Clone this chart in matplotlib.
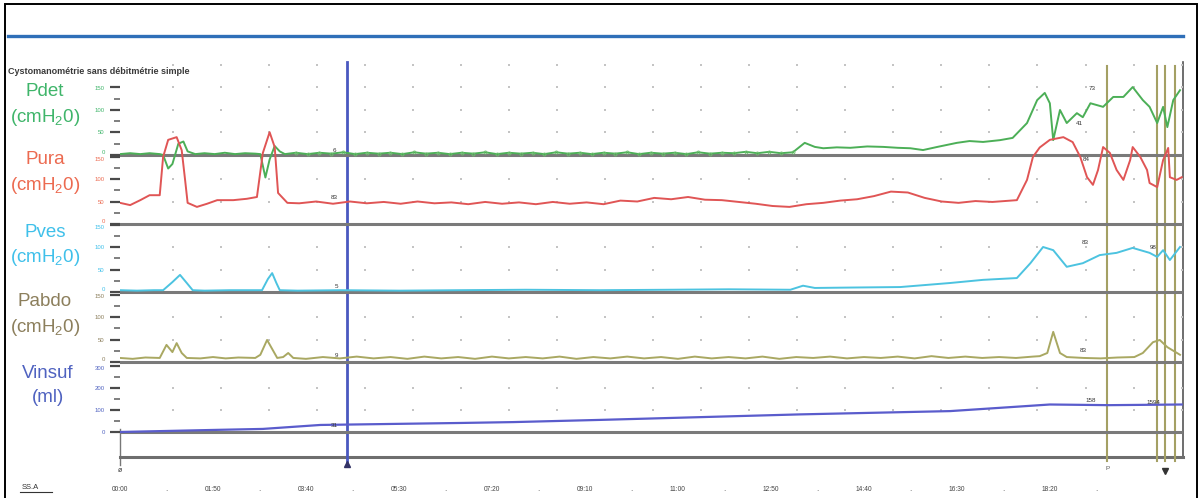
import numpy as np
import matplotlib
matplotlib.use("Agg")
import matplotlib.pyplot as plt
from matplotlib.lines import Line2D
from matplotlib.patches import Rectangle

plt.rcParams['font.family'] = ['Liberation Sans', 'DejaVu Sans']
plt.rcParams['mathtext.fontset'] = 'custom'
plt.rcParams['mathtext.rm'] = 'Liberation Sans'
plt.rcParams['mathtext.default'] = 'regular'

# ---------------- data (time in s, pressures in cmH2O, volume in ml) ----------------
t_pdet = [0, 12, 24, 35, 47, 51, 57, 62, 69, 75, 80, 89, 100, 112, 124, 136, 148, 160, 166, 172, 177, 183, 189, 195,
          208, 222, 236, 250, 264, 278, 292, 306, 320, 334, 348, 362, 376, 390, 404, 418, 432, 446, 460, 474, 488,
          502, 516, 530, 544, 558, 572, 586, 600, 614, 628, 642, 656, 670, 684, 698, 712, 726, 740, 754, 768, 782, 796,
          810, 822, 832, 848, 864, 884, 903, 920, 935, 950, 967, 990, 1005, 1021, 1041, 1056, 1073, 1085, 1094, 1100,
          1104, 1112, 1120, 1132, 1139, 1148, 1163, 1175, 1187, 1198, 1210, 1218, 1227, 1234, 1239, 1246, 1254]
pdet = [2, 4, 2, 4, 2, 0, -30, -20, 25, 30, 8, 2, 4, 2, 5, 2, 4, 3, 2, -50, -10, 20, 8, 2,
        5, 2, 5, 3, 6, 2, 5, 3, 5, 2, 6, 3, 5, 2, 5, 3, 6, 2, 5, 3, 5, 2, 6, 3, 5, 2, 5, 3, 6, 2,
        5, 3, 5, 2, 6, 3, 5, 4, 7, 4, 7, 4, 6,
        27, 18, 15, 17, 16, 19, 18, 16, 15, 11, 18, 27, 31, 29, 33, 38, 71, 122, 138, 115,
        33, 100, 71, 93, 84, 115, 107, 129, 129, 151, 122, 107, 71, 107, 62, 122, 144]

t_pura = [0, 12, 24, 35, 47, 51, 57, 67, 73, 77, 80, 91, 103, 115, 134, 150, 162, 169, 177, 183, 187, 198,
          212, 232, 252, 272, 292, 312, 332, 352, 372, 392, 412, 432, 452, 472, 492, 512, 532, 552, 572, 592,
          612, 632, 652, 672, 692, 712, 732, 752, 772, 792, 812, 832, 852, 872, 892, 912, 932, 952, 972, 992,
          1012, 1032, 1061, 1073, 1080, 1088, 1100, 1116, 1127, 1136, 1144, 1151, 1157, 1163, 1171, 1179, 1187,
          1195, 1198, 1207, 1215, 1218, 1227, 1234, 1240, 1242, 1250, 1256]
pura = [47, 42, 53, 64, 64, 149, 187, 193, 164, 98, 47, 38, 45, 53, 53, 56, 60, 158, 204, 171, 69, 47,
        46, 50, 45, 50, 46, 49, 45, 50, 46, 48, 44, 49, 45, 48, 44, 49, 45, 48, 44, 52,
        50, 58, 55, 60, 54, 53, 49, 45, 40, 38, 44, 47, 52, 55, 62, 72, 70, 58, 50, 47,
        51, 49, 53, 98, 149, 170, 187, 193, 182, 149, 104, 87, 120, 171, 158, 120, 98,
        142, 171, 149, 120, 91, 82, 142, 169, 104, 98, 104]

t_pves = [0, 20, 40, 51, 62, 71, 79, 86, 100, 130, 168, 175, 180, 185, 189, 210, 260, 331, 400, 480,
          568, 650, 720, 793, 808, 822, 870, 923, 982, 1021, 1061, 1077, 1092, 1104, 1120, 1139, 1159, 1179,
          1198, 1218, 1227, 1234, 1242, 1254]
pves = [4, 3, 4, 4, 22, 38, 20, 4, 3, 4, 4, 29, 42, 20, 4, 3, 4, 3, 4, 5,
        4, 5, 6, 5, 14, 9, 10, 11, 20, 27, 31, 64, 100, 93, 56, 64, 82, 87,
        98, 87, 78, 93, 71, 100]

t_pabdo = [0, 15, 30, 47, 55, 62, 67, 73, 79, 95, 110, 125, 140, 160, 166, 174, 186, 193, 199, 205,
           220, 240, 260, 280, 300, 320, 340, 360, 380, 400, 420, 440, 460, 480, 500, 520, 540, 560, 580, 600,
           620, 640, 660, 680, 700, 720, 740, 760, 780, 800, 820, 840, 860, 880, 900, 920, 940, 960, 980, 1000,
           1020, 1040, 1060, 1080, 1088, 1097, 1104, 1112, 1120, 1140, 1160, 1180, 1200, 1210, 1222, 1230, 1239, 1254]
pabdo = [9, 7, 10, 9, 38, 22, 42, 20, 9, 8, 11, 8, 10, 9, 16, 49, 9, 11, 20, 9,
         7, 11, 8, 12, 8, 11, 7, 12, 8, 11, 7, 12, 8, 11, 8, 12, 7, 11, 8, 12,
         8, 11, 7, 12, 8, 11, 8, 12, 7, 11, 9, 12, 8, 11, 9, 12, 8, 13, 9, 12,
         9, 11, 9, 12, 13, 20, 67, 20, 11, 9, 8, 10, 11, 20, 44, 49, 33, 16]

t_vinsuf = [0, 106, 169, 237, 402, 465, 568, 804, 982, 1061, 1100, 1170, 1256]
vinsuf = [0, 9, 14, 32, 41, 45, 55, 80, 95, 115, 125, 122, 125]

time_ticks = [0, 110, 220, 330, 440, 550, 660, 770, 880, 990, 1100]
time_labels = ["00:00", "01:50", "03:40", "05:30", "07:20", "09:10", "11:00", "12:50", "14:40", "16:30", "18:20"]
cursor_t = 268
event_t = [1168, 1227, 1236, 1248]

channels = ["Pdet", "Pura", "Pves", "Pabdo", "Vinsuf"]
units = ["(cmH$_2$0)", "(cmH$_2$0)", "(cmH$_2$0)", "(cmH$_2$0)", "(ml)"]

# ---------------- layout ----------------
W, H = 1203, 498
fig = plt.figure(figsize=(W / 100, H / 100), dpi=100)
fig.patch.set_facecolor('white')

x0, x1 = 120, 1183
y_top, y_bot = 62, 457
rect = [x0 / W, 1 - y_bot / H, (x1 - x0) / W, (y_bot - y_top) / H]
XMAX = (x1 - x0) * 1.183

base = fig.add_axes(rect)
base.set_xlim(0, XMAX)
base.set_ylim(0, 1)
base.patch.set_alpha(0)
for s in ['left', 'top']:
    base.spines[s].set_visible(False)
base.spines['bottom'].set_color('#6e6e6e')
base.spines['bottom'].set_linewidth(2.2)
base.spines['right'].set_color('#555555')
base.spines['right'].set_linewidth(1.2)
base.set_yticks([])
base.set_xticks(time_ticks)
base.set_xticklabels(time_labels)
base.tick_params(axis='x', length=0, pad=21, labelsize=4.8, labelcolor='#444444')
for k in range(len(time_ticks)):
    base.text(time_ticks[k] + 55, -0.083, '.', transform=base.get_xaxis_transform(),
              ha='center', va='center', fontsize=6, color='#555555')

# cursor & event lines
base.axvline(cursor_t, ymin=-0.02, ymax=1.0, color='#4a58c0', lw=2.0, clip_on=False, zorder=5)
base.plot([cursor_t], [-0.018], marker='^', ms=5, color='#333366', clip_on=False, zorder=6)
for te in event_t:
    base.axvline(te, ymin=-0.01, ymax=0.99, color='#a4a064', lw=1.5, clip_on=False, zorder=5)
base.plot([0, 0], [-0.02, 0.07], color='#777777', lw=1.0, clip_on=False)
base.text(0, -0.035, 'ø', transform=base.transData, ha='center', va='center', fontsize=5, color='#333')
base.text(event_t[0], -0.03, 'P', ha='center', va='center', fontsize=4.5, color='#555')
base.plot([event_t[2]], [-0.035], marker='v', ms=4, color='#333333', clip_on=False)

# ---------------- channels ----------------
colors = ['#4caf57', '#e05555', '#4cc3e0', '#a9a862', '#5a5ccc']
label_colors = ['#3fb56a', '#ec6a50', '#3fc0ea', '#8c7f5c', '#4f62c0']
baselines = [155, 224, 292, 362, 432]
scales = [0.45, 0.45, 0.45, 0.45, 0.22]
majors = [[0, 50, 100, 150]] * 4 + [[0, 100, 200, 300]]
minors = [[25, 75, 125]] * 4 + [[50, 150, 250]]
dot_rows = [[50, 100, 150, 200], [50, 100], [50, 100], [50, 100], [100, 200]]
series_t = [t_pdet, t_pura, t_pves, t_pabdo, t_vinsuf]
series_v = [pdet, pura, pves, pabdo, vinsuf]
grid_t = np.arange(63, XMAX, 56.8)

axes = []
for i in range(5):
    ax = fig.add_axes(rect, sharex=base)
    b, s = baselines[i], scales[i]
    ax.set_ylim(-(y_bot - b) / s, (b - y_top) / s)
    ax.patch.set_alpha(0)
    for sp in ax.spines.values():
        sp.set_visible(False)
    ax.xaxis.set_visible(False)
    ax.set_yticks(majors[i])
    labs = ax.set_yticklabels([str(v) for v in majors[i]])
    if i < 4:
        labs[0].set_verticalalignment('bottom')   # "0" sits just above the baseline
    if i > 0:
        labs[-1].set_verticalalignment('top')     # top value sits just under the line above
    ax.set_yticks(minors[i], minor=True)
    ax.tick_params(axis='y', which='major', length=7, width=1.6, color='#4a4a4a',
                   labelsize=4.3, labelcolor=label_colors[i], pad=4)
    ax.tick_params(axis='y', which='minor', length=4, width=1.2, color='#6a6a6a')
    # grid dots
    gx, gy = np.meshgrid(grid_t, dot_rows[i])
    ax.scatter(gx.ravel(), gy.ravel(), s=2.5, marker='s', color='#c4c4c4', lw=0, zorder=1)
    # baseline
    ax.axhline(0, color='#7a7a7a', lw=2.2, zorder=2)
    lw = 1.4 if i < 4 else 1.6
    ax.plot(series_t[i], series_v[i], color=colors[i], lw=lw, zorder=3)
    axes.append(ax)

# Pdet small circular markers along flat segment
axes[0].plot(t_pdet[24:67], pdet[24:67], ls='none', marker='o', ms=2.2, mfc='none',
             mec='#6fbf6f', mew=0.6, zorder=3)

# small value annotations
ann = [(0, cursor_t - 14, 10, '6'), (1, cursor_t - 14, 60, '83'), (2, cursor_t - 12, 12, '5'),
       (3, cursor_t - 12, 14, '9'), (4, cursor_t - 14, 28, '31'),
       (0, 1150, 148, '73'), (0, 1135, 70, '41'), (1, 1143, 144, '84'), (2, 1142, 110, '83'),
       (2, 1222, 100, '98'), (3, 1140, 26, '83'), (4, 1148, 142, '158'), (4, 1222, 132, '1594')]
for ci, tx, vy, txt in ann:
    axes[ci].text(tx, vy, txt, fontsize=4.5, color='#333333', ha='center', va='center', zorder=6)

# ---------------- left channel labels ----------------
label_y = [(92, 117), (160, 186), (232, 258), (302, 327), (373, 398)]
for i in range(5):
    xc = 45 if i < 4 else 48
    fig.text(xc / W, 1 - label_y[i][0] / H, channels[i], fontsize=13.5, color=label_colors[i],
             ha='center', va='center')
    fig.text(xc / W, 1 - label_y[i][1] / H, units[i], fontsize=13.5, color=label_colors[i],
             ha='center', va='center')

# ---------------- header / frame ----------------
fig.add_artist(Line2D([8 / W, 1183 / W], [1 - 36 / H, 1 - 36 / H], color='#2f6fb8', lw=2.4))
fig.text(8 / W, 1 - 72 / H, "Cystomanométrie sans débitmétrie simple", fontsize=6.5,
         color='#3a3a3a', ha='left', va='center', weight='bold')
fig.text(22 / W, 1 - 487 / H, "SS.A", fontsize=5.5, color='#333333', ha='left', va='center')
fig.add_artist(Line2D([20 / W, 52 / W], [1 - 492 / H, 1 - 492 / H], color='#333333', lw=0.8))
fig.add_artist(Rectangle((5 / W, -0.02), (1197 - 5) / W, 1 - 4 / H + 0.02, transform=fig.transFigure,
                         fill=False, ec='black', lw=1.4))

fig.savefig("out.png", dpi=100)
